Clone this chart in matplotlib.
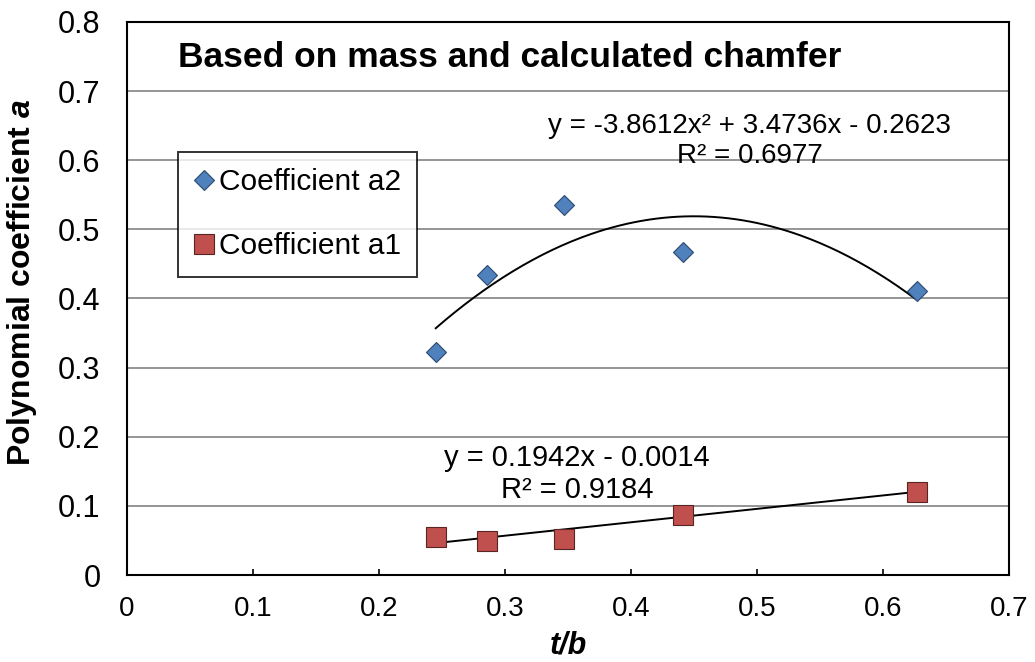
import numpy as np
import matplotlib
matplotlib.use('Agg')
from matplotlib import pyplot as plt

# Measured coefficients against thickness ratio t/b
t_b = [0.245, 0.286, 0.347, 0.441, 0.627]
coef_a2 = [0.323, 0.434, 0.535, 0.467, 0.411]
coef_a1 = [0.055, 0.049, 0.052, 0.087, 0.120]

# Trendline coefficients (highest power first)
fit_a2 = [-3.8612, 3.4736, -0.2623]
fit_a1 = [0.1942, -0.0014]
r2_a2 = 0.6977
r2_a1 = 0.9184

plt.rcParams['font.family'] = ['Liberation Sans', 'DejaVu Sans']
plt.rcParams['mathtext.fontset'] = 'custom'
plt.rcParams['mathtext.bfit'] = 'Liberation Sans:italic:bold'

fig = plt.figure(figsize=(10.35, 6.62), dpi=100)
ax = fig.add_axes([0.1227, 0.1314, 0.8522, 0.8354])

ax.set_xlim(0, 0.7)
ax.set_ylim(0, 0.8)
ax.set_xticks(np.arange(0, 0.71, 0.1))
ax.set_yticks(np.arange(0, 0.81, 0.1))
ax.set_xticklabels(['0', '0.1', '0.2', '0.3', '0.4', '0.5', '0.6', '0.7'], fontsize=20)
ax.set_yticklabels(['0', '0.1', '0.2', '0.3', '0.4', '0.5', '0.6', '0.7', '0.8'], fontsize=22)
ax.tick_params(axis='x', direction='in', length=4, width=1.2, pad=15)
ax.tick_params(axis='y', length=0, pad=19)
ax.yaxis.grid(True, color='#8c8c8c', linewidth=1.3)
ax.set_axisbelow(True)
for s in ax.spines.values():
    s.set_linewidth(1.5)
    s.set_color('black')

# trendlines
xs = np.linspace(min(t_b), max(t_b), 200)
ax.plot(xs, np.polyval(fit_a2, xs), color='black', linewidth=1.4, zorder=2)
ax.plot(xs, np.polyval(fit_a1, xs), color='black', linewidth=1.4, zorder=2)

ax.plot(t_b, coef_a2, linestyle='none', marker='D', markersize=10.5,
        markerfacecolor='#4F81BD', markeredgecolor='#2c4a70', markeredgewidth=0.8,
        label='Coefficient a2', zorder=3)
ax.plot(t_b, coef_a1, linestyle='none', marker='s', markersize=14,
        markerfacecolor='#C0504D', markeredgecolor='#5a2422', markeredgewidth=0.8,
        label='Coefficient a1', zorder=3)

eq2 = 'y = -3.8612x\u00b2 + 3.4736x - 0.2623\nR\u00b2 = %.4f' % r2_a2
eq1 = 'y = 0.1942x - 0.0014\nR\u00b2 = %.4f' % r2_a1
ax.text(0.494, 0.628, eq2, fontsize=20, ha='center', va='center',
        multialignment='center', linespacing=1.2)
ax.text(0.357, 0.146, eq1, fontsize=21, ha='center', va='center',
        multialignment='center', linespacing=1.2)

ax.text(0.0405, 0.748, 'Based on mass and calculated chamfer',
        fontweight='bold', fontsize=25.5, va='center', ha='left')

leg = ax.legend(loc='upper left', bbox_to_anchor=(0.0578, 0.765), fontsize=21.5,
                frameon=True, fancybox=False, borderaxespad=0, borderpad=0.55,
                labelspacing=1.2, handlelength=0.64, handletextpad=0.18)
leg.get_frame().set_edgecolor('black')
leg.get_frame().set_linewidth(1.4)

ax.set_xlabel('t/b', fontweight='bold', fontstyle='italic', fontsize=22, labelpad=6)
ax.set_ylabel('Polynomial coefficient $\\mathbfit{a}$', fontweight='bold', fontsize=23)
ax.yaxis.set_label_coords(-0.1, 0.53)

fig.savefig('out.png', dpi=100)
